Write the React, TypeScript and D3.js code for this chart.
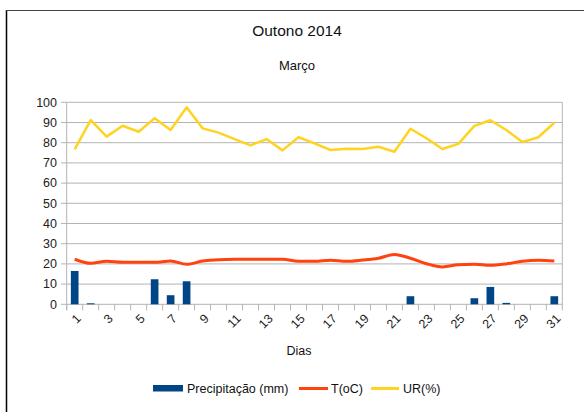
import React from "react";
import * as d3 from "d3";

const days = d3.range(1, 32);
const precip = [16.5, 0.5, 0, 0, 0, 12.4, 4.5, 11.4, 0, 0, 0, 0, 0, 0, 0, 0, 0, 0, 0, 0, 0, 4.0, 0, 0, 0, 3.0, 8.6, 0.7, 0, 0, 4.0];
const temp = [22.3, 20.3, 21.3, 20.8, 20.8, 20.8, 21.4, 19.8, 21.4, 22.1, 22.3, 22.3, 22.3, 22.3, 21.3, 21.3, 21.8, 21.3, 21.9, 22.8, 24.7, 22.8, 20.1, 18.5, 19.6, 19.8, 19.3, 20.0, 21.3, 21.8, 21.4];
const humidity = [76.7, 91.2, 83.0, 88.4, 85.4, 92.1, 86.3, 97.5, 87.1, 85.0, 81.8, 78.7, 81.8, 76.2, 82.7, 79.7, 76.4, 77.0, 76.9, 78.0, 75.5, 86.9, 82.2, 76.9, 79.4, 88.3, 91.1, 86.3, 80.3, 82.7, 89.9];
const yTicks = d3.range(0, 101, 10);

const W = 584;
const H = 412;
const margin = { top: 102.3, right: 21.7, bottom: 107.7, left: 66.7 };
const FONT = "'Liberation Sans', Arial, sans-serif";

const BLUE = "#004586";
const RED = "#ff420e";
const YELLOW = "#ffd320";

export default function App() {
  const x = d3
    .scaleBand<number>()
    .domain(days)
    .range([margin.left, W - margin.right])
    .paddingInner(0.52)
    .paddingOuter(0.26);
  const xc = d3
    .scalePoint<number>()
    .domain(days)
    .range([margin.left, W - margin.right])
    .padding(0.5);
  const y = d3.scaleLinear().domain([0, 100]).range([H - margin.bottom, margin.top]);
  const bw = (W - margin.left - margin.right) / days.length;

  const tempLine = d3
    .line<number>()
    .x((_, i) => xc(days[i])!)
    .y((d) => y(d))
    .curve(d3.curveMonotoneX);
  const urLine = d3
    .line<number>()
    .x((_, i) => xc(days[i])!)
    .y((d) => y(d));

  const y0 = y(0);
  const right = W - margin.right;

  return (
    <svg
      width={W}
      height={H}
      style={{ position: "absolute", left: 0, top: 0, fontFamily: FONT }}
    >
      <rect x={0} y={0} width={W} height={H} fill="#fff" />
      <line x1={6.5} y1={10} x2={6.5} y2={H} stroke="#000" strokeWidth={1.5} />
      <line x1={6} y1={10.5} x2={W} y2={10.5} stroke="#444" strokeWidth={1.2} />

      <text x={297} y={36} textAnchor="middle" fontSize={15.5} fill="#111">
        Outono 2014
      </text>
      <text x={297} y={70} textAnchor="middle" fontSize={13} fill="#111">
        Março
      </text>

      {yTicks.map((t) => (
        <g key={t}>
          <line x1={margin.left} x2={right} y1={y(t)} y2={y(t)} stroke="#b3b3b3" strokeWidth={1} />
          <line x1={61} x2={margin.left} y1={y(t)} y2={y(t)} stroke="#b3b3b3" />
          <text x={57} y={y(t)} dy="0.35em" textAnchor="end" fontSize={12.5} fill="#222">
            {t}
          </text>
        </g>
      ))}
      <line x1={margin.left} x2={margin.left} y1={margin.top} y2={y0 + 6} stroke="#b3b3b3" />
      <line x1={right} x2={right} y1={margin.top} y2={y0 + 6} stroke="#b3b3b3" />
      {days.map((d, i) => (
        <line
          key={d}
          x1={margin.left + i * bw}
          x2={margin.left + i * bw}
          y1={y0}
          y2={y0 + 6}
          stroke="#b3b3b3"
        />
      ))}
      {days
        .filter((d) => d % 2 === 1)
        .map((d) => (
          <text
            key={d}
            transform={`translate(${xc(d)! + 4},${y0 + 12}) rotate(-45)`}
            textAnchor="end"
            dy="0.35em"
            fontSize={12.5}
            fill="#222"
          >
            {d}
          </text>
        ))}

      {precip.map((v, i) =>
        v > 0 ? (
          <rect
            key={i}
            x={x(days[i])!}
            width={x.bandwidth()}
            y={y(v)}
            height={y0 - y(v)}
            fill={BLUE}
          />
        ) : null
      )}
      <path d={tempLine(temp)!} fill="none" stroke={RED} strokeWidth={3} strokeLinejoin="round" />
      <path d={urLine(humidity)!} fill="none" stroke={YELLOW} strokeWidth={2.5} strokeLinejoin="round" />

      <text x={299} y={355} textAnchor="middle" fontSize={12.5} fill="#111">
        Dias
      </text>

      <rect x={153} y={385} width={30} height={6.5} fill={BLUE} />
      <text x={187} y={393} fontSize={12.5} fill="#111">
        Precipitação (mm)
      </text>
      <line x1={299} x2={328} y1={388.5} y2={388.5} stroke={RED} strokeWidth={3} />
      <text x={331} y={393} fontSize={12.5} fill="#111">
        T(oC)
      </text>
      <line x1={371} x2={399} y1={388.5} y2={388.5} stroke={YELLOW} strokeWidth={3} />
      <text x={403} y={393} fontSize={12.5} fill="#111">
        UR(%)
      </text>
    </svg>
  );
}
